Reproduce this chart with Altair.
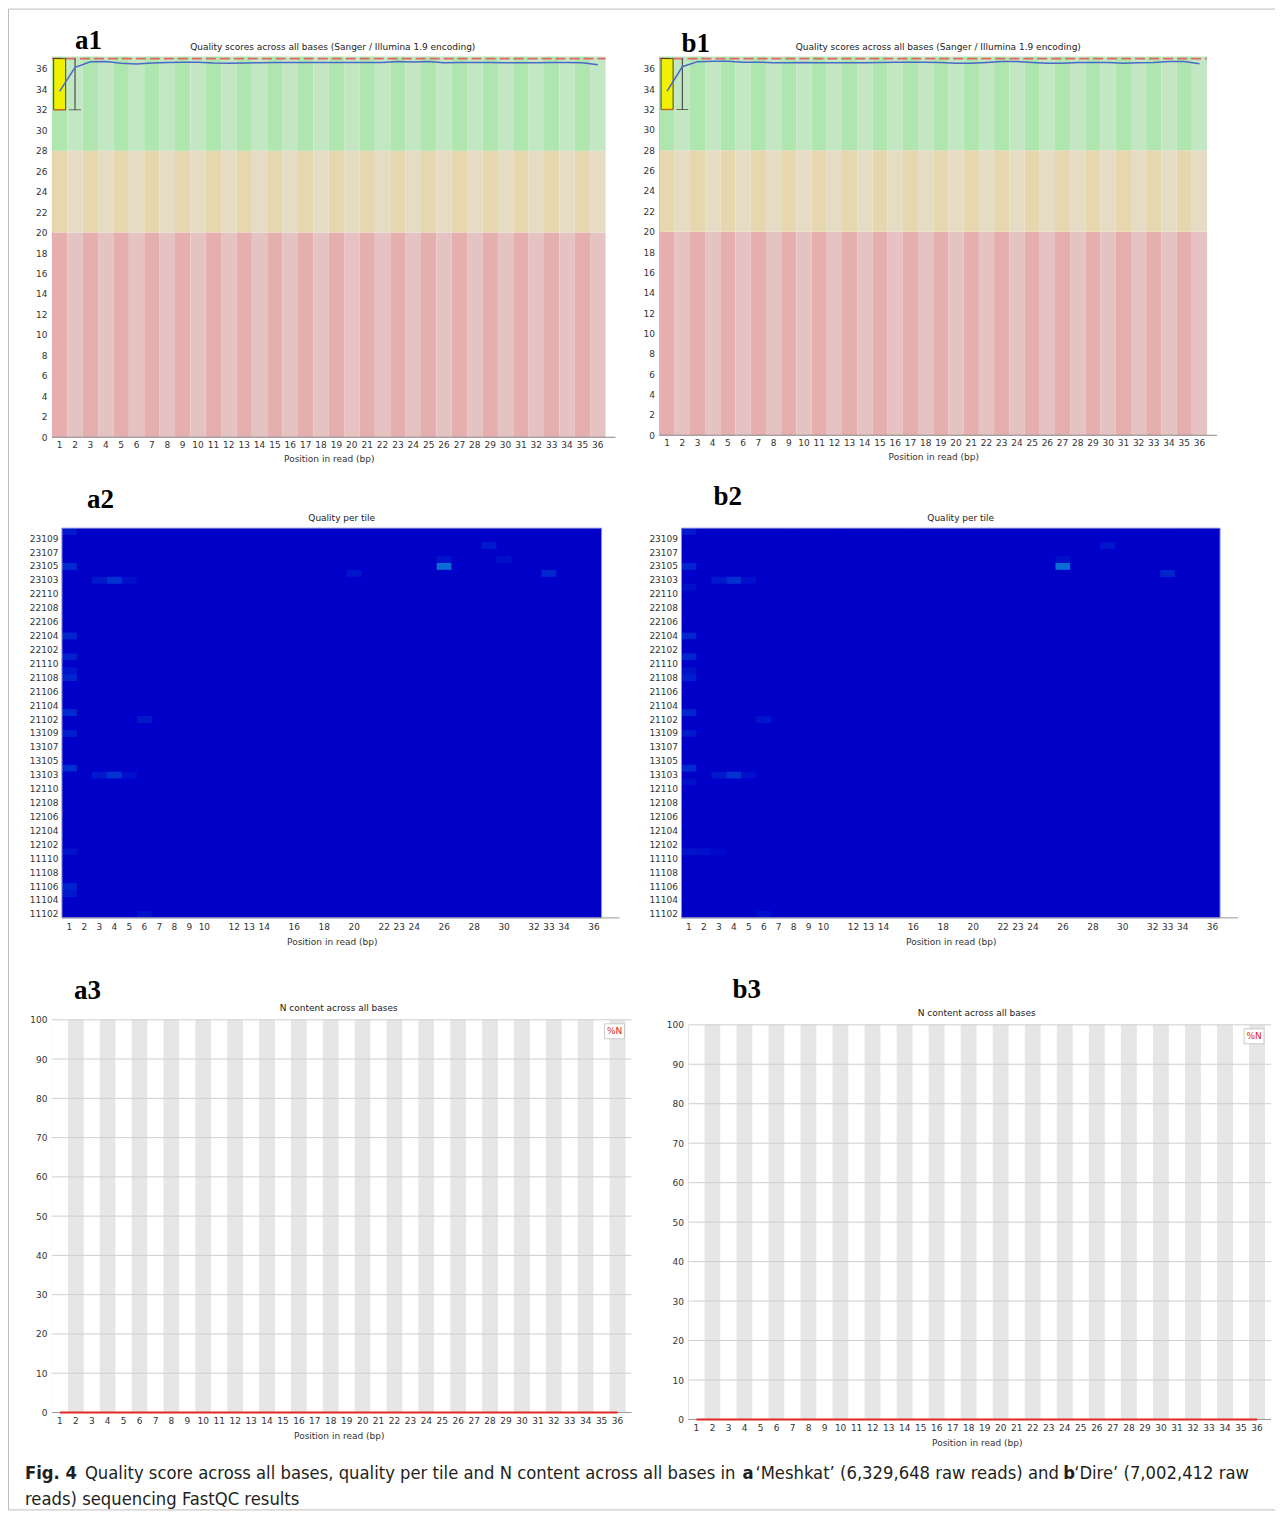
import altair as alt
import pandas as pd

FONT = "DejaVu Sans"
CAP_FONT = "Liberation Sans Narrow, DejaVu Sans Condensed, Roboto Condensed, Arial Narrow, sans-serif"

# ---------------- data ----------------
POSITIONS = list(range(1, 37))

# mean quality (blue line), panels a1 / b1
A1_MEAN = [33.8, 36.15, 36.7, 36.72, 36.55, 36.48, 36.58, 36.62, 36.64, 36.64,
           36.56, 36.55, 36.56, 36.6, 36.62, 36.63, 36.63, 36.63, 36.63, 36.63,
           36.62, 36.62, 36.72, 36.68, 36.72, 36.6, 36.62, 36.62, 36.62, 36.6,
           36.6, 36.6, 36.62, 36.62, 36.6, 36.4]
B1_MEAN = [33.8, 36.2, 36.7, 36.75, 36.75, 36.65, 36.65, 36.6, 36.6, 36.62,
           36.6, 36.6, 36.6, 36.6, 36.62, 36.65, 36.65, 36.65, 36.62, 36.55,
           36.55, 36.62, 36.72, 36.72, 36.62, 36.55, 36.55, 36.62, 36.62, 36.62,
           36.55, 36.6, 36.62, 36.72, 36.72, 36.5]
BOX_POS = [1]
BOX_Q1 = [32]
BOX_Q3 = [37]
WHISK_POS = [2]
WHISK_LO = [32]
WHISK_HI = [37]
MEDIAN_Q = 37
Q_MAX = 37.2
ZONE_NAMES = ["bad", "average", "good"]
ZONE_LO = [0, 20, 28]
ZONE_HI = [20, 28, Q_MAX]
Q_TICKS = list(range(0, 37, 2))

# per tile heatmap
TILES = ["23110", "23109", "23108", "23107", "23106", "23105", "23104", "23103", "23102",
         "22110", "22109", "22108", "22107", "22106", "22105", "22104", "22103", "22102", "22101",
         "21110", "21109", "21108", "21107", "21106", "21105", "21104", "21103", "21102", "21101",
         "13109", "13108", "13107", "13106", "13105", "13104", "13103", "13102",
         "12110", "12109", "12108", "12107", "12106", "12105", "12104", "12103", "12102", "12101",
         "11110", "11109", "11108", "11107", "11106", "11105", "11104", "11103", "11102"]
TILE_LABELS = ["23109", "23107", "23105", "23103", "22110", "22108", "22106", "22104", "22102",
               "21110", "21108", "21106", "21104", "21102", "13109", "13107", "13105", "13103",
               "12110", "12108", "12106", "12104", "12102", "11110", "11108", "11106", "11104", "11102"]
HM_X_LABELS = [1, 2, 3, 4, 5, 6, 7, 8, 9, 10, 12, 13, 14, 16, 18, 20, 22, 23, 24,
               26, 28, 30, 32, 33, 34, 36]

A2_TILE = ["23110", "23105", "23103", "23103", "23103", "22104", "22101", "21109", "21108",
           "21103", "21102", "13109", "13104", "13103", "13103", "13103", "12101", "11106",
           "11105", "11102", "23105", "23106", "23108", "23106", "23104", "23104"]
A2_POS = [1, 1, 3, 4, 5, 1, 1, 1, 1, 1, 6, 1, 1, 3, 4, 5, 1, 1, 1, 6, 26, 26, 29, 30, 33, 20]
A2_VAL = [0.1, 0.22, 0.1, 0.3, 0.05, 0.18, 0.15, 0.08, 0.2, 0.22, 0.1, 0.12, 0.25, 0.1,
          0.3, 0.05, 0.06, 0.16, 0.1, 0.06, 1.0, 0.07, 0.1, 0.05, 0.2, 0.08]

B2_TILE = ["23110", "23105", "23103", "23103", "23103", "23102", "22104", "22101", "21109",
           "21108", "21103", "21102", "13109", "13104", "13103", "13103", "13103", "13102",
           "12101", "12101", "12101", "11102", "23105", "23106", "23108", "23104"]
B2_POS = [1, 1, 3, 4, 5, 1, 1, 1, 1, 1, 1, 6, 1, 1, 3, 4, 5, 1, 1, 2, 3, 6, 26, 26, 29, 33]
B2_VAL = [0.1, 0.18, 0.1, 0.28, 0.05, 0.05, 0.2, 0.18, 0.06, 0.13, 0.2, 0.08, 0.1, 0.22,
          0.1, 0.3, 0.05, 0.05, 0.08, 0.05, 0.03, 0.05, 1.0, 0.05, 0.08, 0.18]

# N content (%)
A3_N = [0, 0, 0, 0, 0, 0, 0, 0, 0, 0, 0, 0, 0, 0, 0, 0, 0, 0,
        0, 0, 0, 0, 0, 0, 0, 0, 0, 0, 0, 0, 0, 0, 0, 0, 0, 0]
B3_N = [0, 0, 0, 0, 0, 0, 0, 0, 0, 0, 0, 0, 0, 0, 0, 0, 0, 0,
        0, 0, 0, 0, 0, 0, 0, 0, 0, 0, 0, 0, 0, 0, 0, 0, 0, 0]
N_TICKS = list(range(0, 101, 10))
N_SERIES = "%N"

# titles and caption
Q_TITLE = "Quality scores across all bases (Sanger / Illumina 1.9 encoding)"
T_TITLE = "Quality per tile"
N_TITLE = "N content across all bases"
X_TITLE = "Position in read (bp)"
CAP_TEXT = ["Fig. 4",
            "Quality score across all bases, quality per tile and N content across all bases in",
            "a", "\u2018Meshkat\u2019 (6,329,648 raw reads) and", "b",
            "\u2018Dire\u2019 (7,002,412 raw", "reads) sequencing FastQC results"]
CAP_BOLD = [True, False, True, False, True, False, False]

# ---------------- styles / layout ----------------
ZONE_COLORS = {"good": ("#c3e6c3", "#afe6af"),
               "average": ("#e6dcc3", "#e6d7af"),
               "bad": ("#e6c3c3", "#e6afaf")}
N_BAND = ("#e6e6e6", "#ffffff")
N_RED = "#e02828"
HM_RANGE = ["#0000c8", "#0a6cd4"]
COL1_X = 44  # layout x of the a-panel column (caption sits in it)
CAP_X = [v - COL1_X for v in [17, 77, 735, 748, 1056, 1067, 17]]
CAP_Y = [27, 27, 27, 27, 27, 27, 53]

one = pd.DataFrame({"d": [0]})


def spacer(w, h):
    return alt.Chart(one).mark_point(size=0, opacity=0, strokeWidth=0).encode(
        x=alt.value(0), y=alt.value(0)).properties(width=w, height=h)


def panel_label(text, lx, ly):
    return alt.Chart(pd.DataFrame({"t": [text]})).mark_text(
        font="Liberation Serif", fontWeight="bold", fontSize=27, align="left",
        baseline="alphabetic", color="#000").encode(
        text="t:N", x=alt.value(lx), y=alt.value(ly))


def title_mark(text, cx, cy):
    return alt.Chart(pd.DataFrame({"t": [text]})).mark_text(
        font=FONT, fontSize=9, align="center", baseline="middle", color="#222").encode(
        text="t:N", x=alt.value(cx), y=alt.value(cy))


def x_axis(values=None, pad=3, tpad=5):
    kw = dict(labelAngle=0, ticks=False, domain=False, labelPadding=pad, labelFont=FONT,
              labelFontSize=9, labelColor="#333", title=X_TITLE, titleFont=FONT,
              titleFontSize=9, titleFontWeight="normal", titleColor="#333", titlePadding=tpad)
    if values is not None:
        kw["values"] = values
    return alt.Axis(**kw)


def quality_panel(mean, w, h, label, lx, ly, tdx, ty, sx=0):
    rows = []
    for p in POSITIONS:
        for name, lo, hi in zip(ZONE_NAMES, ZONE_LO, ZONE_HI):
            rows.append({"pos": p, "lo": lo, "hi": hi, "col": ZONE_COLORS[name][p % 2]})
    bg_df = pd.DataFrame(rows)
    xs = alt.Scale(type="band", domain=POSITIONS, paddingInner=0, paddingOuter=0,
                   range=[sx, sx + w])
    ys = alt.Scale(domain=[0, Q_MAX], nice=False, zero=True)
    xenc = alt.X("pos:O", scale=xs, axis=x_axis(pad=3, tpad=5))
    yaxis = alt.Axis(values=Q_TICKS, ticks=False, domainColor="#888", labelPadding=5,
                     labelFont=FONT, labelFontSize=9, labelColor="#333", grid=False,
                     labelOverlap=False, labelSeparation=0, labelBound=False,
                     title=None, offset=-sx)

    def yq(field):
        return alt.Y(field, scale=ys, axis=yaxis)

    bg = alt.Chart(bg_df).mark_rect().encode(
        x=xenc, y=yq("lo:Q"), y2="hi:Q", color=alt.Color("col:N", scale=None))
    xline = alt.Chart(one).mark_rule(color="#888").encode(
        x=alt.value(sx), x2=alt.value(sx + w + 10), y=alt.value(h))
    box_df = pd.DataFrame({"pos": BOX_POS, "q1": BOX_Q1, "q3": BOX_Q3})
    box = alt.Chart(box_df).mark_bar(size=12, color="#f0f000", stroke="#222",
                                     strokeWidth=0.8).encode(
        x=xenc, y=yq("q1:Q"), y2="q3:Q")
    boxlow = alt.Chart(box_df).mark_tick(color="#e86a10", size=12, thickness=1.5).encode(
        x=xenc, y=yq("q1:Q"))
    wk_df = pd.DataFrame({"pos": WHISK_POS, "lo": WHISK_LO, "hi": WHISK_HI})
    wk = alt.Chart(wk_df).mark_rule(color="#333", strokeWidth=1).encode(
        x=xenc, y=yq("lo:Q"), y2="hi:Q")
    cap = alt.Chart(wk_df).mark_tick(color="#333", size=12, thickness=1).encode(
        x=xenc, y=yq("lo:Q"))
    med = alt.Chart(one).mark_rule(color="#e06666", strokeDash=[10, 4],
                                   strokeWidth=1.6).encode(
        x=alt.value(sx), x2=alt.value(sx + w), y=alt.Y(datum=MEDIAN_Q, scale=ys, axis=yaxis))
    mean_df = pd.DataFrame({"pos": POSITIONS, "mean": mean})
    line = alt.Chart(mean_df).mark_line(color="#4a68c8", strokeWidth=1.5).encode(
        x=xenc, y=yq("mean:Q"))
    return alt.layer(bg, xline, med, box, boxlow, wk, cap, line,
                     panel_label(label, lx + sx, ly),
                     title_mark(Q_TITLE, sx + w / 2 + tdx, ty)).properties(width=w + sx, height=h)


def tile_panel(ht, hp, hv, w, h, label, lx, ly, tdx, ty, sx=0):
    hot = {(t, p): v for t, p, v in zip(ht, hp, hv)}
    rows = [{"tile": t, "pos": p, "val": hot.get((t, p), 0.0)} for t in TILES for p in POSITIONS]
    df = pd.DataFrame(rows)
    xs = alt.Scale(type="band", domain=POSITIONS, paddingInner=0, paddingOuter=0,
                   range=[sx, sx + w])
    ys = alt.Scale(type="band", domain=TILES, paddingInner=0, paddingOuter=0)
    cs = alt.Scale(domain=[0, 1], range=HM_RANGE)
    base = alt.Chart(one).mark_rect(color=HM_RANGE[0]).encode(
        x=alt.value(sx), x2=alt.value(sx + w), y=alt.value(0), y2=alt.value(h))
    cells = alt.Chart(df).mark_rect().encode(
        x=alt.X("pos:O", scale=xs, axis=x_axis(HM_X_LABELS, pad=5, tpad=6)),
        y=alt.Y("tile:O", scale=ys,
                axis=alt.Axis(values=TILE_LABELS, ticks=False, domain=False, labelPadding=4,
                              labelFont=FONT, labelFontSize=9, labelColor="#333", title=None,
                              labelOverlap=False, offset=-sx)),
        color=alt.Color("val:Q", scale=cs, legend=None))
    border = alt.Chart(one).mark_rect(fill="transparent", stroke="#8c8ce0",
                                      strokeWidth=1).encode(
        x=alt.value(sx), x2=alt.value(sx + w), y=alt.value(0), y2=alt.value(h))
    xline = alt.Chart(one).mark_rule(color="#999").encode(
        x=alt.value(sx), x2=alt.value(sx + w + 18), y=alt.value(h))
    return alt.layer(base, cells, border, xline, panel_label(label, lx + sx, ly),
                     title_mark(T_TITLE, sx + w / 2 + tdx, ty)).properties(width=w + sx, height=h)


def n_panel(nvals, w, h, label, lx, ly, tdx, ty, sx=0, sy=0):
    xs = alt.Scale(type="band", domain=POSITIONS, paddingInner=0, paddingOuter=0,
                   range=[sx, sx + w])
    ys = alt.Scale(domain=[0, 100], nice=False, range=[h + sy, sy])
    xenc = alt.X("pos:O", scale=xs, axis=x_axis(pad=4, tpad=6))
    bands = pd.DataFrame({"pos": POSITIONS, "col": [N_BAND[p % 2] for p in POSITIONS]})
    yaxis = alt.Axis(values=N_TICKS, ticks=False, domainColor="#999", labelPadding=5,
                     labelFont=FONT, labelFontSize=9, labelColor="#333", grid=False,
                     labelOverlap=False, labelSeparation=0, labelBound=False,
                     title=None, offset=-sx)
    bg = alt.Chart(bands).mark_rect().encode(
        x=xenc, y=alt.Y(datum=0, scale=ys, axis=yaxis), y2=alt.datum(100),
        color=alt.Color("col:N", scale=None))
    # horizontal grid lines drawn over the bands, under the data line
    grid = alt.Chart(pd.DataFrame({"v": N_TICKS})).mark_rule(color="#cfcfcf").encode(
        x=alt.value(sx), x2=alt.value(sx + w + 6), y=alt.Y("v:Q", scale=ys, axis=yaxis))
    xline = alt.Chart(one).mark_rule(color="#999").encode(
        x=alt.value(sx), x2=alt.value(sx + w + 6), y=alt.value(h + sy))
    ndf = pd.DataFrame({"pos": POSITIONS, "n": nvals})
    line = alt.Chart(ndf).mark_line(strokeWidth=2.2, color=N_RED).encode(
        x=xenc, y=alt.Y("n:Q", scale=ys, axis=yaxis))
    # "%N" key box in the top-right corner
    key_box = alt.Chart(one).mark_rect(fill="white", stroke="#cccccc", strokeWidth=1).encode(
        x=alt.value(sx + w - 21), x2=alt.value(sx + w - 1),
        y=alt.value(sy + 4), y2=alt.value(sy + 19))
    key_txt = alt.Chart(pd.DataFrame({"t": [N_SERIES]})).mark_text(
        font=FONT, fontSize=9, color=N_RED, align="center", baseline="middle").encode(
        text="t:N", x=alt.value(sx + w - 11), y=alt.value(sy + 11.5))
    return alt.layer(bg, grid, xline, line, key_box, key_txt,
                     panel_label(label, lx + sx, ly + sy),
                     title_mark(N_TITLE, sx + w / 2 + tdx, ty + sy)).properties(
        width=w + sx, height=h + sy)


a1 = quality_panel(A1_MEAN, 554, 381, "a1", 23, -8, 4, -10)
b1 = quality_panel(B1_MEAN, 548, 379, "b1", 22, -5, 5, -10)
a2 = tile_panel(A2_TILE, A2_POS, A2_VAL, 540, 390, "a2", 25, -20, 10, -10, sx=10)
b2 = tile_panel(B2_TILE, B2_POS, B2_VAL, 539, 390, "b2", 32, -23, 10, -10, sx=22)
a3 = n_panel(A3_N, 574, 393, "a3", 22, -21, 0, -12)
b3 = n_panel(B3_N, 577, 395, "b3", 44, -27, 0, -12, sx=29, sy=5)

FRAME = "#bdbdbd"
frame = alt.layer(
    alt.Chart(one).mark_rule(color=FRAME).encode(x=alt.value(0.5), y=alt.value(0.5), y2=alt.value(1502.5)),
    alt.Chart(one).mark_rule(color=FRAME).encode(x=alt.value(0.5), x2=alt.value(1268), y=alt.value(0.5)),
    alt.Chart(one).mark_rule(color=FRAME).encode(x=alt.value(0.5), x2=alt.value(1268), y=alt.value(1502.5)),
).properties(width=1, height=48)

cap_df = pd.DataFrame({"t": CAP_TEXT, "x": CAP_X, "y": CAP_Y, "b": CAP_BOLD})
cap_reg = alt.Chart(cap_df[~cap_df["b"]]).mark_text(
    font=CAP_FONT, fontSize=18.3, align="left", baseline="middle", color="#231f20").encode(
    text="t:N", x=alt.X("x:Q", scale=None), y=alt.Y("y:Q", scale=None))
cap_bold = alt.Chart(cap_df[cap_df["b"]]).mark_text(
    font=CAP_FONT, fontSize=18.3, fontWeight="bold", align="left", baseline="middle",
    color="#231f20").encode(
    text="t:N", x=alt.X("x:Q", scale=None), y=alt.Y("y:Q", scale=None))
caption = alt.layer(cap_reg, cap_bold).properties(width=1, height=56)

# flat grid: [left spacer | a panels | middle spacer | b panels]
cells = [
    frame, spacer(1, 48), spacer(1, 48), spacer(1, 48),
    spacer(COL1_X, 1), a1, spacer(34, 1), b1,
    spacer(1, 91), spacer(1, 91), spacer(1, 91), spacer(1, 91),
    spacer(1, 1), a2, spacer(1, 1), b2,
    spacer(1, 102), spacer(1, 102), spacer(1, 102), spacer(1, 102),
    spacer(1, 1), a3, spacer(1, 1), b3,
    spacer(1, 28), spacer(1, 28), spacer(1, 28), spacer(1, 28),
    spacer(1, 1), caption,
]

chart = alt.concat(*cells, columns=4, spacing=0, bounds="flush", align="each")
chart = chart.resolve_scale(color="independent")
chart = chart.properties(padding=0, background="white").configure_view(strokeWidth=0)

chart.save("out.html", embed_options={"renderer": "svg", "actions": False})
